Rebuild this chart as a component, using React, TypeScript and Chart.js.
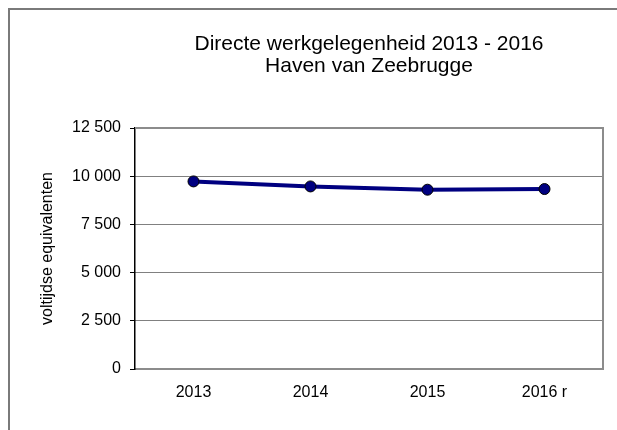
import React, { useEffect, useRef } from "react";
import { Chart, registerables } from "chart.js";

Chart.register(...registerables);

const categories = ["2013", "2014", "2015", "2016 r"];
const employment = [9730, 9470, 9300, 9335];
const titleLines = ["Directe werkgelegenheid 2013 - 2016", "Haven van Zeebrugge"];
const yAxisTitle = "voltijdse equivalenten";
const yMin = 0;
const yMax = 12500;
const yStep = 2500;

const FONT = "'Liberation Sans', Arial, sans-serif";

function formatThousands(v: number): string {
  const s = Math.round(v).toString();
  return s.replace(/\B(?=(\d{3})+(?!\d))/g, " ");
}

const plotFrame = {
  id: "plotFrame",
  afterDatasetsDraw(chart: any) {
    const { ctx, chartArea } = chart;
    ctx.save();
    ctx.strokeStyle = "#8c8c8c";
    ctx.lineWidth = 2;
    ctx.beginPath();
    ctx.moveTo(chartArea.left, chartArea.top);
    ctx.lineTo(chartArea.right, chartArea.top);
    ctx.lineTo(chartArea.right, chartArea.bottom);
    ctx.stroke();
    ctx.restore();
  },
};

export default function App() {
  const ref = useRef<HTMLCanvasElement | null>(null);

  useEffect(() => {
    if (!ref.current) return;
    const chart = new Chart(ref.current, {
      type: "line",
      data: {
        labels: categories,
        datasets: [
          {
            data: employment,
            borderColor: "#000080",
            borderWidth: 4,
            backgroundColor: "#000080",
            pointBackgroundColor: "#000080",
            pointBorderColor: "#000000",
            pointBorderWidth: 1,
            pointRadius: 5.5,
            tension: 0,
            fill: false,
          },
        ],
      },
      plugins: [plotFrame],
      options: {
        responsive: false,
        animation: false,
        devicePixelRatio: 1,
        layout: { padding: { left: 0, right: 14, top: 0, bottom: 0 } },
        plugins: {
          legend: { display: false },
          tooltip: { enabled: false },
          title: {
            display: true,
            text: titleLines,
            fullSize: false,
            color: "#000",
            font: { family: FONT, size: 21, weight: "normal", lineHeight: 1.048 },
            padding: { top: 23, bottom: 51 },
          },
        },
        scales: {
          x: {
            type: "category",
            offset: true,
            grid: { display: false, drawTicks: false },
            border: { display: true, color: "#8c8c8c", width: 2 },
            ticks: {
              color: "#000",
              font: { family: FONT, size: 16 },
              padding: 14,
              maxRotation: 0,
            },
            afterFit: (scale: any) => {
              scale.height = 61;
            },
          },
          y: {
            min: yMin,
            max: yMax,
            grid: {
              color: (ctx: any) =>
                ctx.tick && (ctx.tick.value === yMin || ctx.tick.value === yMax)
                  ? "rgba(0,0,0,0)"
                  : "#000",
              tickColor: "#000",
              tickLength: 5,
              lineWidth: 1,
            },
            border: { display: true, color: "#000", width: 1.5, dash: [1, 1] },
            ticks: {
              stepSize: yStep,
              color: "#000",
              font: { family: FONT, size: 16 },
              padding: 9,
              callback: (v: any) => formatThousands(Number(v)),
            },
            title: {
              display: true,
              text: yAxisTitle,
              color: "#000",
              font: { family: FONT, size: 16 },
              padding: { top: 28, bottom: 0 },
            },
            afterFit: (scale: any) => {
              scale.width = 125;
            },
          },
        },
      },
    });
    return () => chart.destroy();
  }, []);

  return (
    <div
      style={{
        position: "fixed",
        left: 8,
        top: 8,
        width: 609,
        height: 422,
        boxSizing: "border-box",
        borderTop: "2px solid #7a7a7a",
        borderLeft: "2px solid #7a7a7a",
        background: "#fff",
        overflow: "hidden",
      }}
    >
      <canvas ref={ref} width={607} height={420} style={{ display: "block", width: 607, height: 420 }} />
    </div>
  );
}
